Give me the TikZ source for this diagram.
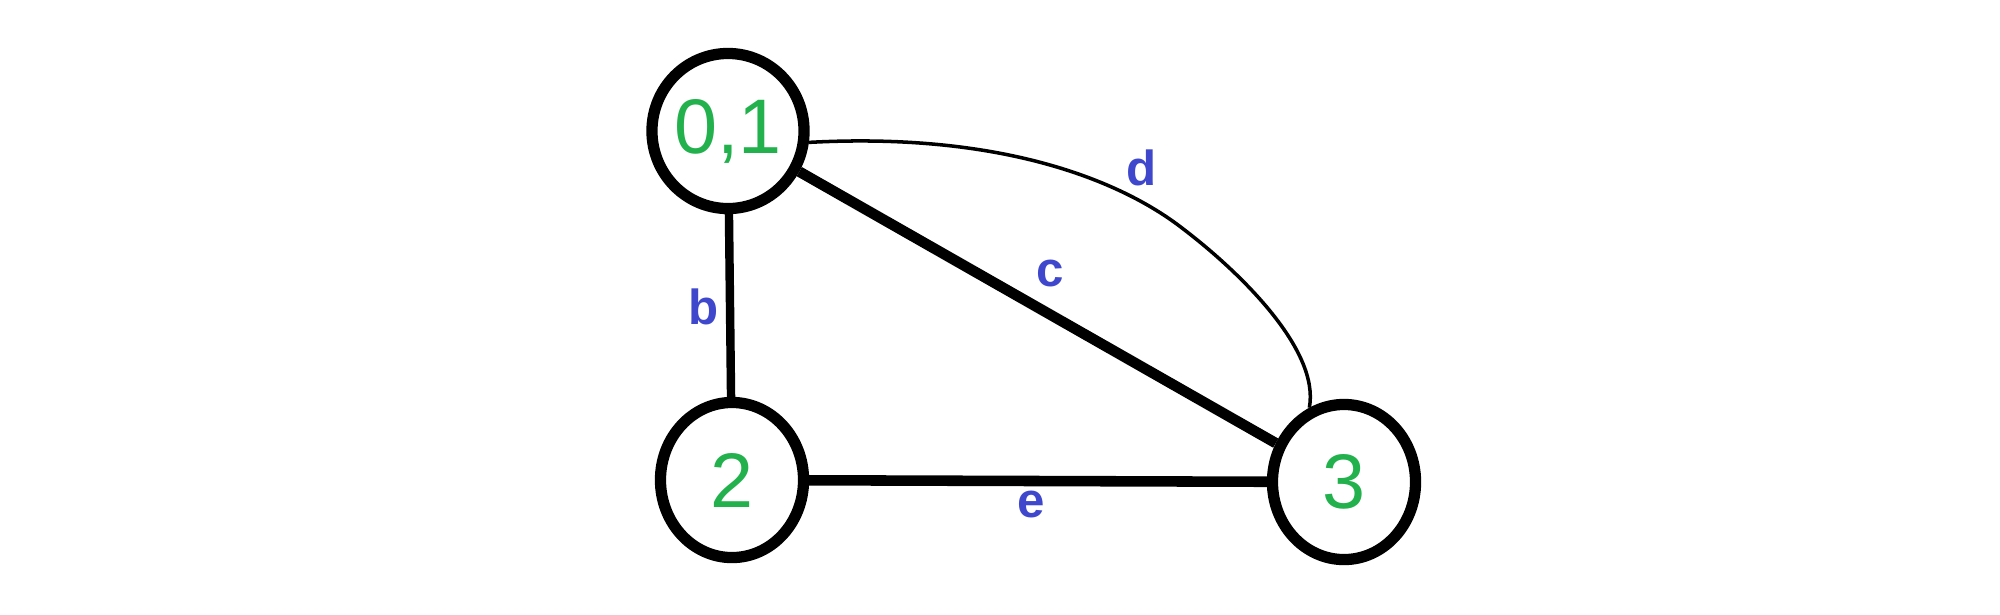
\documentclass[tikz,border=0pt]{standalone}
\usepackage{fontspec}
\setmainfont{Liberation Sans}
\usetikzlibrary{shapes,calc,positioning}
\definecolor{vgreen}{RGB}{34,177,76}
\definecolor{eblue}{RGB}{63,72,204}
\tikzstyle{vertex} = [draw, ellipse, line width=3.2pt, minimum width=1.43cm, minimum height=1.55cm, inner sep=0pt, text=vgreen, font=\fontsize{22}{25}\selectfont]
\tikzstyle{edge} = [line width=3pt]
\begin{document}
\begin{tikzpicture}[x=0.01cm,y=-0.01cm]
\tikzset{elabel/.style={text=eblue,font=\fontsize{14}{16}\selectfont\bfseries}}
\useasboundingbox (0,0) rectangle (2000,614);

\node[vertex] (n01) at (728,131) {0,1};
\node[vertex] (n2) at (732,480) {2};
\node[vertex] (n3) at (1344,482) {3};
\coordinate (dmid) at (1182,228);

\draw[edge, line width=2.4pt] (n01) -- (n2);
\draw[edge] (n01) -- (n3);
\draw[edge] (n2) -- (n3);
% hand drawn arc d
\draw[line width=1pt] (n01.-8) .. controls (1000,132) and (1120,180) .. (dmid)
  .. controls (1240,272) and (1320,350) .. (n3.115);

\node[elabel] (lb) at (704,307) {b};
\node[elabel] (lc) at (1050,273) {c};
\node[elabel] (ld) at (1142,168) {d};
\node[elabel] (le) at (1031,504) {e};

\end{tikzpicture}
\end{document}
